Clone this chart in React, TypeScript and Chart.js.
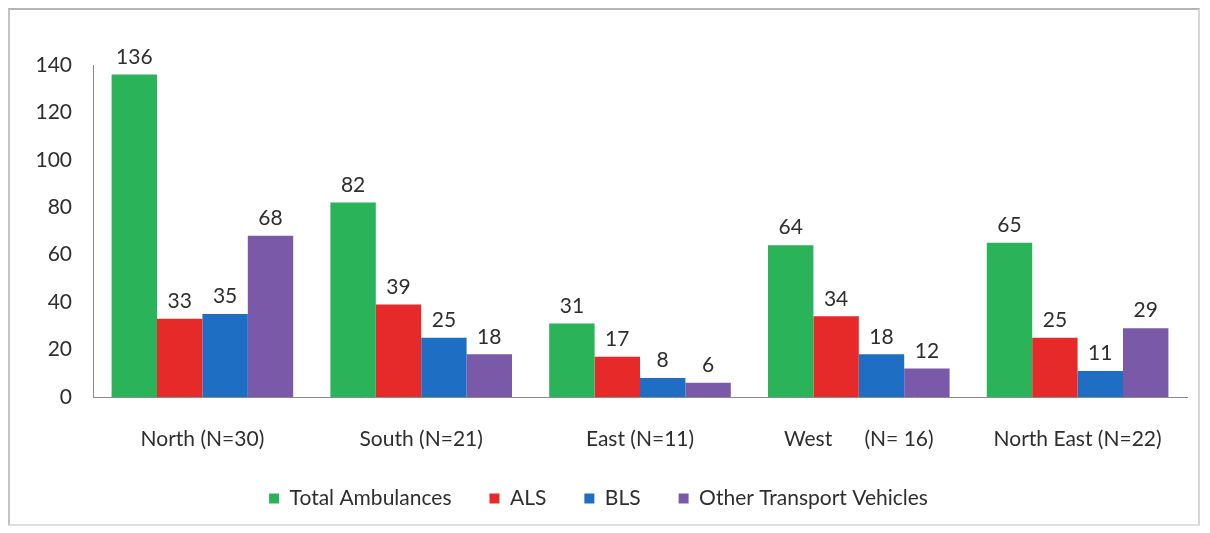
import React, { useEffect, useRef } from "react";
import { Chart, registerables } from "chart.js";

Chart.register(...registerables);

const categories = ["North (N=30)", "South (N=21)", "East (N=11)", "West      (N= 16)", "North East (N=22)"];
const totalAmbulances = [136, 82, 31, 64, 65];
const als = [33, 39, 17, 34, 25];
const bls = [35, 25, 8, 18, 11];
const otherVehicles = [68, 18, 6, 12, 29];
const yTicks = [0, 20, 40, 60, 80, 100, 120, 140];

const FONT = "Lato, 'Open Sans', sans-serif";
const TEXT = "#2e2e2e";

const dataLabels = {
  id: "dataLabels",
  afterDatasetsDraw(chart: any) {
    const ctx = chart.ctx;
    ctx.save();
    ctx.font = `21px ${FONT}`;
    ctx.fillStyle = TEXT;
    ctx.textAlign = "center";
    ctx.textBaseline = "bottom";
    chart.data.datasets.forEach((ds: any, i: number) => {
      const meta = chart.getDatasetMeta(i);
      meta.data.forEach((bar: any, j: number) => {
        ctx.fillText(String(ds.data[j]), bar.x, bar.y - 7);
      });
    });
    ctx.restore();
  },
};

export default function App() {
  const ref = useRef<HTMLCanvasElement>(null);
  useEffect(() => {
    const chart = new Chart(ref.current!, {
      type: "bar",
      data: {
        labels: categories,
        datasets: [
          { label: "Total Ambulances", data: totalAmbulances, backgroundColor: "#2bb35a" },
          { label: "ALS", data: als, backgroundColor: "#e62a2a" },
          { label: "BLS", data: bls, backgroundColor: "#1e6ec4" },
          { label: "Other Transport Vehicles", data: otherVehicles, backgroundColor: "#7a5aa8" },
        ],
      },
      options: {
        animation: false,
        responsive: false,
        layout: { padding: { top: 55, bottom: 5, left: 0, right: 11 } },
        datasets: { bar: { categoryPercentage: 0.83, barPercentage: 1 } },
        plugins: {
          tooltip: { enabled: false },
          legend: {
            position: "bottom",
            labels: {
              boxWidth: 10,
              boxHeight: 10,
              padding: 38,
              color: TEXT,
              font: { family: FONT, size: 21 },
            },
          },
        },
        scales: {
          x: {
            grid: { display: false, drawTicks: false },
            border: { display: true, color: "#8a8a8a", width: 1 },
            ticks: { color: TEXT, padding: 30, font: { family: FONT, size: 21 }, maxRotation: 0 },
            afterFit(scale: any) {
              scale.height = 53;
            },
          },
          y: {
            min: 0,
            max: 140,
            grid: { display: false, drawTicks: false },
            border: { display: true, color: "#8a8a8a", width: 1 },
            ticks: {
              color: TEXT,
              padding: 21,
              font: { family: FONT, size: 21 },
              stepSize: 20,
              callback: (v: any) => (yTicks.includes(Number(v)) ? String(v) : ""),
            },
            afterFit(scale: any) {
              scale.width = 83;
            },
          },
        },
      },
      plugins: [dataLabels],
    });
    return () => chart.destroy();
  }, []);
  return (
    <div
      style={{
        width: 1188,
        height: 514,
        borderTop: "2px solid #b4b4b4",
        borderLeft: "2px solid #c4c4c4",
        borderRight: "2px solid #d6d6d6",
        borderBottom: "2px solid #e0e0e0",
        background: "#fff",
      }}
    >
      <canvas ref={ref} width={1188} height={514} style={{ display: "block" }} />
    </div>
  );
}
